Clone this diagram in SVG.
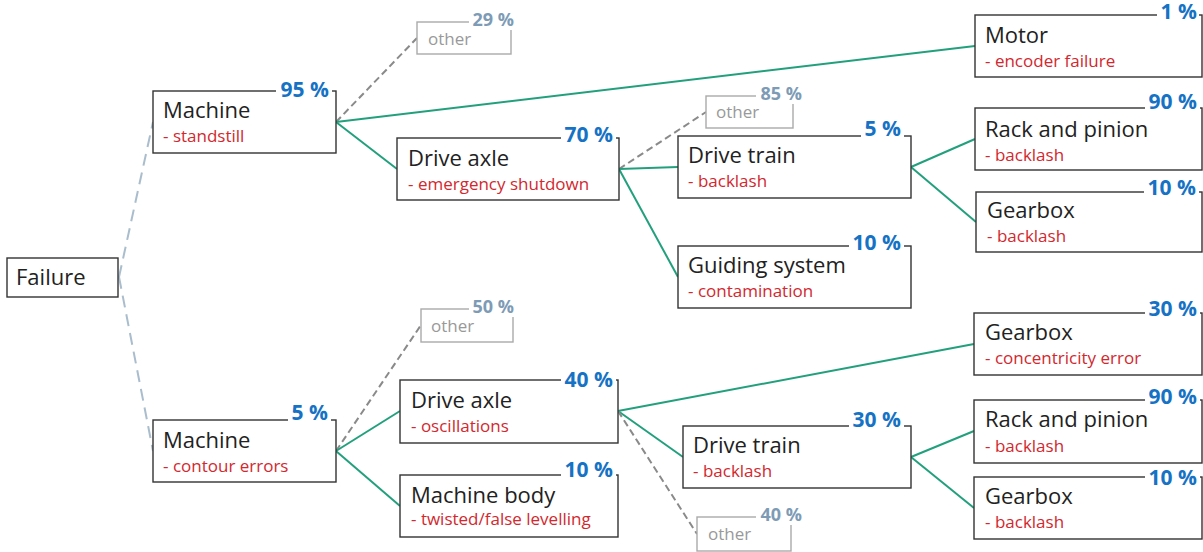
<svg xmlns="http://www.w3.org/2000/svg" width="1203" height="552" viewBox="0 0 1203 552">
  <style>
    .box { fill: #ffffff; stroke: #333333; stroke-width: 1.4; }
    .obox { fill: #ffffff; stroke: #aaaaaa; stroke-width: 1.4; }
    .title { font-family: "Open Sans", "Liberation Sans", sans-serif; font-size: 22px; fill: #222222; }
    .sub { font-family: "Open Sans", "Liberation Sans", sans-serif; font-size: 17px; fill: #d2282e; }
    .other { font-family: "Open Sans", "Liberation Sans", sans-serif; font-size: 17px; fill: #999999; }
    .pct { font-family: "Open Sans", "Liberation Sans", sans-serif; font-size: 21px; font-weight: bold; fill: #1572c4; text-anchor: end; }
    .opct { font-family: "Open Sans", "Liberation Sans", sans-serif; font-size: 18px; font-weight: bold; fill: #7d9bb5; text-anchor: end; }
    .bg { fill: #ffffff; }
    .root { fill: none; stroke: #a9bdcc; stroke-width: 2; stroke-dasharray: 12 7; }
    .main { fill: none; stroke: #22a07c; stroke-width: 2; }
    .rest { fill: none; stroke: #8a8a8a; stroke-width: 2; stroke-dasharray: 7 4; }
  </style>

  <!-- connectors -->
  <g id="connectors">
    <line class="root" x1="119" y1="277" x2="153" y2="122"/>
    <line class="root" x1="119" y1="277" x2="153" y2="451"/>

    <line class="rest" x1="336" y1="122" x2="417" y2="38"/>
    <line class="main" x1="336" y1="122" x2="975" y2="46"/>
    <line class="main" x1="336" y1="122" x2="397" y2="169"/>
    <line class="rest" x1="619" y1="169" x2="706" y2="112"/>
    <line class="main" x1="619" y1="169" x2="678" y2="167"/>
    <line class="main" x1="619" y1="169" x2="678" y2="277"/>
    <line class="main" x1="911" y1="167" x2="975" y2="139"/>
    <line class="main" x1="911" y1="167" x2="976" y2="222"/>

    <line class="rest" x1="336" y1="451" x2="421" y2="325"/>
    <line class="main" x1="336" y1="451" x2="400" y2="411"/>
    <line class="main" x1="336" y1="451" x2="400" y2="506"/>
    <line class="main" x1="618" y1="411" x2="974" y2="344"/>
    <line class="main" x1="618" y1="411" x2="683" y2="457"/>
    <line class="rest" x1="618" y1="411" x2="697" y2="534"/>
    <line class="main" x1="911" y1="457" x2="974" y2="431"/>
    <line class="main" x1="911" y1="457" x2="974" y2="508"/>
  </g>

  <!-- root -->
  <g id="failure">
    <rect class="box" x="7" y="258" width="111" height="39"/>
    <text class="title" x="16" y="285">Failure</text>
  </g>

  <!-- upper branch -->
  <g id="machine-standstill">
    <rect class="box" x="153" y="91" width="183" height="62"/>
    <rect class="bg" x="276" y="79" width="56" height="22"/>
    <text class="pct" x="329" y="97">95 %</text>
    <text class="title" x="163" y="118">Machine</text>
    <text class="sub" x="163" y="142">- standstill</text>
  </g>

  <g id="other-29">
    <rect class="obox" x="417" y="22" width="94" height="32"/>
    <rect class="bg" x="469" y="8" width="48" height="22"/>
    <text class="opct" x="514" y="26">29 %</text>
    <text class="other" x="428" y="45">other</text>
  </g>

  <g id="drive-axle-shutdown">
    <rect class="box" x="397" y="138" width="222" height="62"/>
    <rect class="bg" x="561" y="123" width="55" height="22"/>
    <text class="pct" x="613" y="142">70 %</text>
    <text class="title" x="408" y="166">Drive axle</text>
    <text class="sub" x="408" y="190">- emergency shutdown</text>
  </g>

  <g id="motor">
    <rect class="box" x="975" y="15" width="227" height="62"/>
    <rect class="bg" x="1157" y="1" width="42" height="22"/>
    <text class="pct" x="1197" y="19">1 %</text>
    <text class="title" x="985" y="43">Motor</text>
    <text class="sub" x="985" y="67">- encoder failure</text>
  </g>

  <g id="other-85">
    <rect class="obox" x="706" y="96" width="87" height="32"/>
    <rect class="bg" x="756" y="82" width="49" height="22"/>
    <text class="opct" x="802" y="100">85 %</text>
    <text class="other" x="716" y="118">other</text>
  </g>

  <g id="drive-train-upper">
    <rect class="box" x="678" y="136" width="233" height="62"/>
    <rect class="bg" x="861" y="117" width="43" height="22"/>
    <text class="pct" x="901" y="136">5 %</text>
    <text class="title" x="688" y="163">Drive train</text>
    <text class="sub" x="688" y="187">- backlash</text>
  </g>

  <g id="guiding-system">
    <rect class="box" x="678" y="246" width="233" height="62"/>
    <rect class="bg" x="849" y="231" width="55" height="22"/>
    <text class="pct" x="901" y="250">10 %</text>
    <text class="title" x="688" y="273">Guiding system</text>
    <text class="sub" x="688" y="297">- contamination</text>
  </g>

  <g id="rack-pinion-upper">
    <rect class="box" x="975" y="108" width="227" height="62"/>
    <rect class="bg" x="1145" y="90" width="55" height="22"/>
    <text class="pct" x="1197" y="109">90 %</text>
    <text class="title" x="985" y="137">Rack and pinion</text>
    <text class="sub" x="985" y="161">- backlash</text>
  </g>

  <g id="gearbox-upper">
    <rect class="box" x="976" y="192" width="226" height="60"/>
    <rect class="bg" x="1144" y="176" width="55" height="22"/>
    <text class="pct" x="1196" y="195">10 %</text>
    <text class="title" x="987" y="218">Gearbox</text>
    <text class="sub" x="987" y="242">- backlash</text>
  </g>

  <!-- lower branch -->
  <g id="machine-contour">
    <rect class="box" x="153" y="420" width="183" height="62"/>
    <rect class="bg" x="288" y="401" width="43" height="22"/>
    <text class="pct" x="328" y="420">5 %</text>
    <text class="title" x="163" y="448">Machine</text>
    <text class="sub" x="163" y="472">- contour errors</text>
  </g>

  <g id="other-50">
    <rect class="obox" x="421" y="309" width="92" height="33"/>
    <rect class="bg" x="469" y="295" width="48" height="22"/>
    <text class="opct" x="514" y="313">50 %</text>
    <text class="other" x="431" y="332">other</text>
  </g>

  <g id="drive-axle-oscillations">
    <rect class="box" x="400" y="380" width="218" height="63"/>
    <rect class="bg" x="561" y="368" width="55" height="22"/>
    <text class="pct" x="613" y="387">40 %</text>
    <text class="title" x="411" y="408">Drive axle</text>
    <text class="sub" x="411" y="432">- oscillations</text>
  </g>

  <g id="machine-body">
    <rect class="box" x="400" y="475" width="218" height="62"/>
    <rect class="bg" x="561" y="458" width="55" height="22"/>
    <text class="pct" x="613" y="477">10 %</text>
    <text class="title" x="411" y="503">Machine body</text>
    <text class="sub" x="411" y="525">- twisted/false levelling</text>
  </g>

  <g id="gearbox-concentricity">
    <rect class="box" x="974" y="313" width="228" height="62"/>
    <rect class="bg" x="1145" y="297" width="55" height="22"/>
    <text class="pct" x="1197" y="316">30 %</text>
    <text class="title" x="985" y="340">Gearbox</text>
    <text class="sub" x="985" y="364">- concentricity error</text>
  </g>

  <g id="drive-train-lower">
    <rect class="box" x="683" y="426" width="228" height="62"/>
    <rect class="bg" x="849" y="408" width="55" height="22"/>
    <text class="pct" x="901" y="427">30 %</text>
    <text class="title" x="693" y="453">Drive train</text>
    <text class="sub" x="693" y="477">- backlash</text>
  </g>

  <g id="other-40">
    <rect class="obox" x="697" y="517" width="94" height="34"/>
    <rect class="bg" x="756" y="503" width="49" height="22"/>
    <text class="opct" x="802" y="521">40 %</text>
    <text class="other" x="708" y="540">other</text>
  </g>

  <g id="rack-pinion-lower">
    <rect class="box" x="974" y="400" width="228" height="63"/>
    <rect class="bg" x="1145" y="385" width="55" height="22"/>
    <text class="pct" x="1197" y="404">90 %</text>
    <text class="title" x="985" y="427">Rack and pinion</text>
    <text class="sub" x="985" y="452">- backlash</text>
  </g>

  <g id="gearbox-lower">
    <rect class="box" x="974" y="477" width="228" height="62"/>
    <rect class="bg" x="1145" y="466" width="55" height="22"/>
    <text class="pct" x="1197" y="485">10 %</text>
    <text class="title" x="985" y="504">Gearbox</text>
    <text class="sub" x="985" y="528">- backlash</text>
  </g>
</svg>
